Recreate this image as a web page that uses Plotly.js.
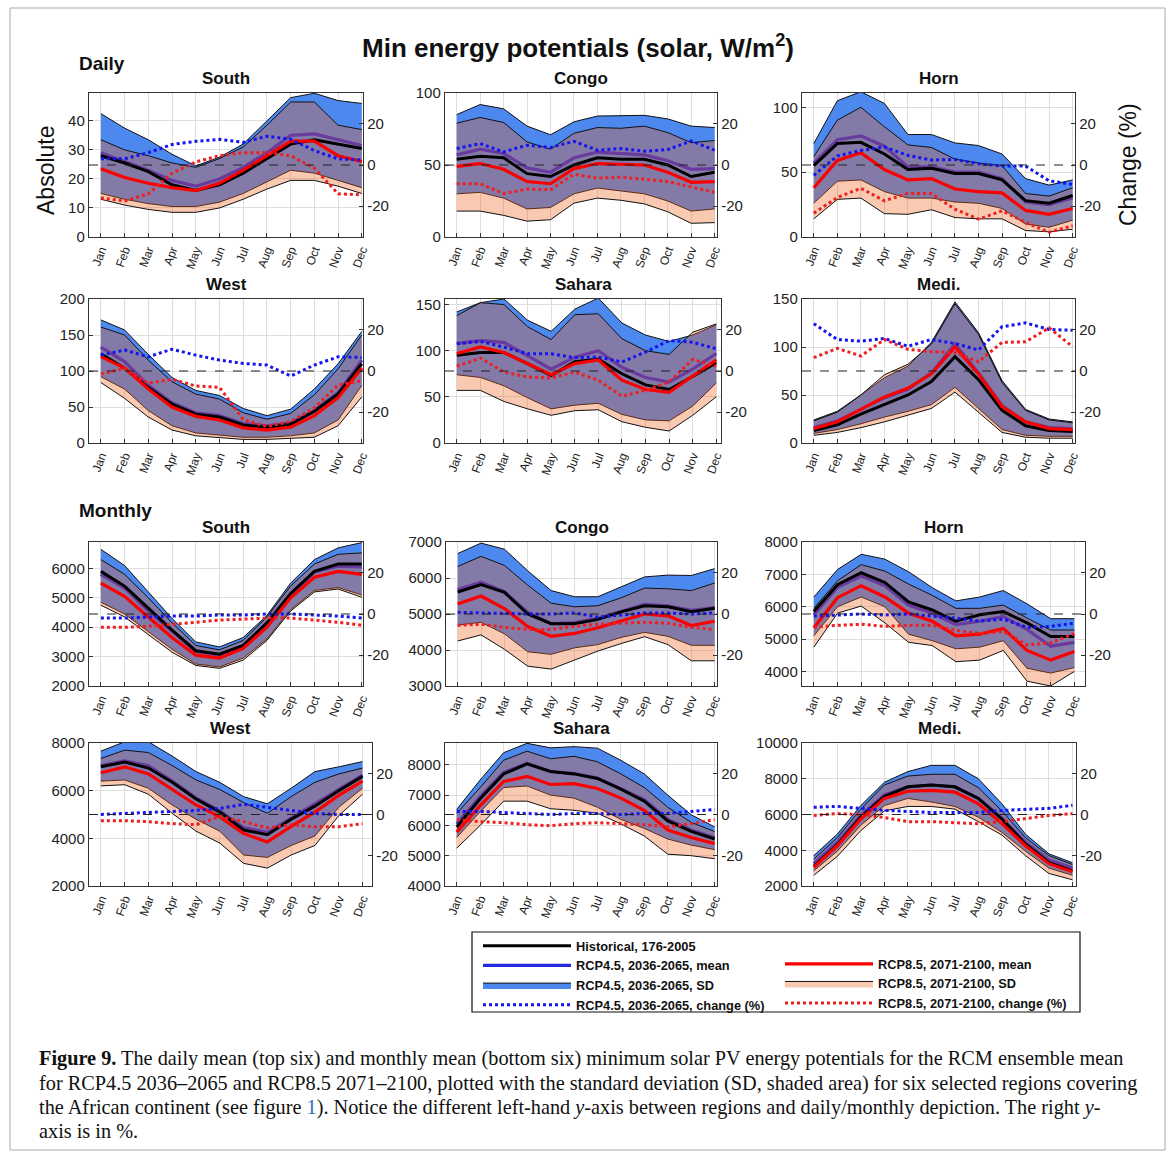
<!DOCTYPE html>
<html><head><meta charset="utf-8">
<script src="https://cdn.plot.ly/plotly-3.0.1.min.js"></script>
<style>html,body{margin:0;padding:0;background:#fff}</style>
</head><body><div id="chart" style="width:1173px;height:1157px"></div>
<script>
const months = ['Jan','Feb','Mar','Apr','May','Jun','Jul','Aug','Sep','Oct','Nov','Dec'];
const monthIdx = [1,2,3,4,5,6,7,8,9,10,11,12];

// ---------- DAILY ----------
// South (daily)
const dSouth_hist  = [28,25.5,22.5,18,16,18,22,27,32,33.5,32,30.5];
const dSouth_r45   = [29,26,23,19.5,17.5,20,24,29,35,35.5,33.5,31.5];
const dSouth_r45hi = [42.5,37.5,33.5,28.5,24.5,27.5,32,40,48,49.5,47,46];
const dSouth_r45lo = [15,13,11.5,10.5,10.5,12,15,19,23,22,19.5,17];
const dSouth_r85   = [23.5,20.5,18.5,17,16,18.5,23,28,33,33,28,26];
const dSouth_r85hi = [33.5,30,28,25.5,24,27,31,38.5,46.5,46.5,38.5,37];
const dSouth_r85lo = [13,11,9.5,8.5,8.5,10,13,16.5,19.5,19.5,17.5,15];
const dSouth_c45   = [3,3,6,10,11.5,12.5,11,14,12.5,7,3,2.5];
const dSouth_c85   = [-16,-17.5,-14,-4,1.5,4.5,6,6,4.5,-1.5,-14,-14.5];
// Congo (daily)
const dCongo_hist  = [54,56,55,44,42,50,55,54,54,50,42,45];
const dCongo_r45   = [57,61,58,48,45,55,59,58,57,53,47,47.5];
const dCongo_r45hi = [85,92,89,77,71,80,84,84,84.5,82,77,76];
const dCongo_r45lo = [30,31,27,19.5,20.5,30,34,32,30,25,18,19.5];
const dCongo_r85   = [49,51,47,38.5,37,47.5,51,50.5,50,45,38,38.5];
const dCongo_r85hi = [79,83,79.5,66,61,72,76,75.5,77,72.5,65.5,67];
const dCongo_r85lo = [18,18,15,11,12,23.5,27,25.5,23,17.5,9.5,10];
const dCongo_c45   = [8,10.4,6.4,9.6,8.5,11.5,7.2,8,6.7,7.5,11.7,7.2];
const dCongo_c85   = [-9.1,-9.1,-13.9,-11.7,-12,-4.5,-6.4,-5.9,-6.9,-8,-10.7,-13.3];
// Horn (daily)
const dHorn_hist  = [55,72,73,64,52,53,49,49,44,28,26,32];
const dHorn_r45   = [57,75,78,70,54,54,50,50,45,27,25,30];
const dHorn_r45hi = [72,105,112,103,79,79,72.5,70.5,64,45,40,44];
const dHorn_r45lo = [26,43,44,35,30,30,27,26,22,10,7.5,13];
const dHorn_r85   = [38,59,65,52,44,45,37,35,34,20.5,17.5,22];
const dHorn_r85hi = [62,90,100,85,71,69,60,57,55,33.5,31.5,38];
const dHorn_r85lo = [14,29,30,18,17.5,21,15,14,14,5,4,6];
const dHorn_c45   = [-5,4.4,7.1,8.7,4.7,2.4,2.7,0.6,-0.5,-0.5,-7.7,-9.4];
const dHorn_c85   = [-23.4,-15.8,-11.3,-17.4,-13.9,-13.9,-21.5,-26.3,-22.3,-27.9,-32.7,-29.5];
// West (daily)
const dWest_hist  = [124,104,77,54,40,36,25,22,26,44,68,110];
const dWest_r45   = [133,113,80,56,42,38,27,24,28,45,70,115];
const dWest_r45hi = [171,157,123,91,73,66,48,38,47,75,110,155];
const dWest_r45lo = [92,75,45,24,14,11,8,8,10,14,32,80];
const dWest_r85   = [120,104,75,50,37,32,21,18,22,38,63,104];
const dWest_r85hi = [161,150,115,85,68,61,42,33,41,67,103,150];
const dWest_r85lo = [84,62,36,18,10,8,5,5,6,8,24,64];
const dWest_c45   = [7.7,10.2,6.9,10.6,7.7,5.3,3.7,2.9,-2.4,2.9,6.9,6.6];
const dWest_c85   = [-1.5,1.3,-6,-4,-7.3,-7.9,-23.7,-27,-24.5,-18,-6.8,-4.7];
// Sahara (daily)
const dSahara_hist  = [95,98,98,86,73,88,91,75,63,58,72,87];
const dSahara_r45   = [108,111,109,95,80,93,100,82,71,66,80,97];
const dSahara_r45hi = [142,152,156,133,121,145,157,130,117,110,117,128];
const dSahara_r45lo = [74,71,62,49,37,41,43,31,25,24,40,65];
const dSahara_r85   = [97,104,98,86,74,86,90,68,58,55,73,90];
const dSahara_r85hi = [138,152,150,126,112,139,140,113,100,96,120,129];
const dSahara_r85lo = [57,57,45,37,30,35,36,23,17,13,30,50];
const dSahara_c45   = [13.2,14.4,11.6,8.4,8.4,6.5,6.8,4.4,9.2,14.8,14,10.8];
const dSahara_c85   = [2.3,6.3,-0.5,-2.9,-3.4,-0.5,-4.5,-12.3,-9.4,-5.3,5.6,2.3];
// Medi. (daily)
const dMedi_hist  = [13,19,30,40,50,64,90,66,34,18,13,12];
const dMedi_r45   = [16,23,35,47,56,73,103,73,39,22,16,15];
const dMedi_r45hi = [24,33,50,68,80,105,147,115,65,35,25,22];
const dMedi_r45lo = [10,14,20,27,33,40,58,36,14,8,7,7];
const dMedi_r85   = [15,22,35,48,57,72,100,72,38,22,15,14];
const dMedi_r85hi = [23,32,50,71,82,103,145,113,63,34,24,21];
const dMedi_r85lo = [8,11,16,22,29,36,53,32,11,6,5,5];
const dMedi_c45   = [23,15.3,14.5,15.8,12,15.3,13.4,10.2,21.5,23.4,20.2,19.8];
const dMedi_c85   = [6.5,11,7.3,15.3,10.5,9.4,8.9,4.5,13.9,14.2,21,11.8];

// ---------- MONTHLY ----------
const mSouth_hist  = [5900,5400,4650,3900,3200,3080,3380,4150,5150,5900,6150,6150];
const mSouth_r45   = [5800,5330,4550,3850,3180,3050,3360,4100,5100,5880,6080,6050];
const mSouth_r45hi = [6650,6100,5200,4300,3500,3330,3650,4400,5500,6300,6700,6880];
const mSouth_r45lo = [4850,4450,3850,3250,2750,2650,2950,3600,4600,5250,5350,5100];
const mSouth_r85   = [5500,5050,4350,3650,3050,2950,3280,4000,5000,5700,5900,5800];
const mSouth_r85hi = [6300,5800,5000,4150,3380,3230,3550,4350,5400,6150,6480,6530];
const mSouth_r85lo = [4750,4350,3750,3150,2700,2600,2880,3550,4550,5200,5300,5020];
const mSouth_c45   = [-2,-2,-1.5,-1,-1,-0.5,-0.5,0,0,-0.5,-1,-2];
const mSouth_c85   = [-6.5,-6.5,-6,-5,-4,-3,-2.5,-2,-2,-3,-4,-5.5];

const mCongo_hist  = [5610,5820,5600,5000,4730,4730,4850,5060,5230,5200,5060,5160];
const mCongo_r45   = [5680,5880,5620,5050,4730,4760,4880,5070,5270,5230,5100,5180];
const mCongo_r45hi = [6680,6970,6800,6200,5650,5480,5480,5750,6030,6080,6070,6260];
const mCongo_r45lo = [4690,4770,4450,3950,3880,4060,4150,4350,4490,4380,4130,4130];
const mCongo_r85   = [5280,5500,5150,4650,4380,4460,4620,4800,5000,4950,4680,4800];
const mCongo_r85hi = [6320,6600,6350,5800,5300,5200,5230,5450,5720,5700,5650,5860];
const mCongo_r85lo = [4250,4420,4020,3550,3470,3730,3970,4180,4370,4150,3700,3700];
const mCongo_c45   = [0.8,0.5,0,0,0,0.5,-1.5,-0.5,0.5,0.5,0,0.5];
const mCongo_c85   = [-5.5,-5,-6.5,-7.5,-7.5,-6,-5,-4.5,-4,-4.5,-6.5,-7.5];

const mHorn_hist  = [5850,6680,7050,6750,6150,5900,5550,5750,5850,5500,5080,5080];
const mHorn_r45   = [5750,6600,6950,6650,6050,5800,5450,5550,5700,5300,4780,4900];
const mHorn_r45hi = [6300,7150,7620,7470,7080,6590,6180,6300,6500,6090,5630,5630];
const mHorn_r45lo = [5100,6000,6300,6000,5150,4950,4700,4750,4950,4100,3950,4120];
const mHorn_r85   = [5350,6280,6650,6300,5800,5550,5100,5150,5330,4650,4350,4620];
const mHorn_r85hi = [5950,6800,7300,7100,6700,6350,5950,5950,6050,5650,5280,5280];
const mHorn_r85lo = [4750,5800,6020,5500,4900,4800,4300,4350,4650,3700,3550,4000];
const mHorn_c45   = [-1,-0.5,0,-0.5,0,-1,-2,-3.5,-2.5,-6.5,-6,-4.5];
const mHorn_c85   = [-6.5,-5.5,-5,-6,-5.5,-5.5,-8,-9.5,-8.5,-15,-14,-9.5];

const mWest_hist  = [7000,7200,6950,6350,5650,5100,4350,4150,4800,5350,6000,6600];
const mWest_r45   = [7050,7250,7050,6400,5700,5150,4450,4250,4850,5450,6050,6650];
const mWest_r45hi = [7660,8050,8050,7450,6800,6350,5750,5450,6100,6800,7000,7220];
const mWest_r45lo = [6400,6450,6100,5400,4800,4300,3300,3200,3700,4100,5300,6100];
const mWest_r85   = [6750,7000,6700,6050,5400,4900,4200,3850,4500,5100,5800,6400];
const mWest_r85hi = [7350,7700,7600,7050,6450,6050,5500,5050,5750,6350,6700,6950];
const mWest_r85lo = [6200,6250,5850,5050,4300,3800,2950,2750,3300,3700,4950,5850];
const mWest_c45   = [0,0.5,1,1.5,2,3,5,3.5,2,0.5,0,0];
const mWest_c85   = [-3,-3,-3.5,-4.5,-5,-1,-3.5,-6.5,-5,-6,-6,-4.5];

const mSahara_hist  = [5950,6880,7700,8030,7780,7700,7550,7200,6800,6150,5800,5550];
const mSahara_r45   = [6050,6950,7750,8050,7780,7720,7560,7200,6850,6200,5850,5600];
const mSahara_r45hi = [6530,7500,8400,8710,8560,8600,8550,8150,7700,7000,6350,5950];
const mSahara_r45lo = [5600,6450,7250,7300,7000,6900,6600,6200,5900,5550,5350,5200];
const mSahara_r85   = [5780,6650,7450,7620,7350,7380,7220,6900,6500,5850,5600,5400];
const mSahara_r85hi = [6400,7250,8150,8450,8200,8280,8100,7700,7250,6600,6100,5800];
const mSahara_r85lo = [5250,6000,6800,6800,6550,6500,6400,6050,5650,5050,5000,4900];
const mSahara_c45   = [1.5,1.5,1,0.5,0,0.5,0.5,0,0.5,0.5,1.5,2.5];
const mSahara_c85   = [-2.5,-3.5,-4,-5,-5.5,-4.5,-4,-4.5,-5,-6,-4.5,-2.5];

const mMedi_hist  = [3100,4300,5850,7000,7550,7650,7550,6900,5750,4350,3300,2850];
const mMedi_r45   = [3250,4450,5950,7100,7550,7650,7550,6900,5800,4450,3450,3000];
const mMedi_r45hi = [3700,4900,6500,7800,8400,8750,8750,8000,6600,4900,3800,3300];
const mMedi_r45lo = [2850,3950,5400,6500,6900,6700,6450,5850,5000,3950,3000,2600];
const mMedi_r85   = [3050,4250,5750,6900,7300,7350,7250,6600,5500,4250,3250,2800];
const mMedi_r85hi = [3500,4700,6300,7650,8150,8250,8250,7500,6200,4700,3700,3200];
const mMedi_r85lo = [2600,3650,5100,6200,6450,6450,6300,5600,4850,3700,2700,2350];
const mMedi_c45   = [3.5,4,3,2,1.5,1,1,1,2,2.5,3,4.5];
const mMedi_c85   = [-0.5,0.5,0,-1.5,-3.5,-3.5,-4,-4.5,-3.5,-2,-0.5,0.5];

const regionNames = ['South','Congo','Horn','West','Sahara','Medi.','South','Congo','Horn','West','Sahara','Medi.'];
const legendNames = {
  hist:'Historical, 176-2005',
  r45:'RCP4.5, 2036-2065, mean', r45sd:'RCP4.5, 2036-2065, SD', c45:'RCP4.5, 2036-2065, change (%)',
  r85:'RCP8.5, 2071-2100, mean', r85sd:'RCP8.5, 2071-2100, SD', c85:'RCP8.5, 2071-2100, change (%)'
};

// panel data table built from arrays
const panelData = [
  {hist:dSouth_hist,r45:dSouth_r45,r45hi:dSouth_r45hi,r45lo:dSouth_r45lo,r85:dSouth_r85,r85hi:dSouth_r85hi,r85lo:dSouth_r85lo,c45:dSouth_c45,c85:dSouth_c85},
  {hist:dCongo_hist,r45:dCongo_r45,r45hi:dCongo_r45hi,r45lo:dCongo_r45lo,r85:dCongo_r85,r85hi:dCongo_r85hi,r85lo:dCongo_r85lo,c45:dCongo_c45,c85:dCongo_c85},
  {hist:dHorn_hist,r45:dHorn_r45,r45hi:dHorn_r45hi,r45lo:dHorn_r45lo,r85:dHorn_r85,r85hi:dHorn_r85hi,r85lo:dHorn_r85lo,c45:dHorn_c45,c85:dHorn_c85},
  {hist:dWest_hist,r45:dWest_r45,r45hi:dWest_r45hi,r45lo:dWest_r45lo,r85:dWest_r85,r85hi:dWest_r85hi,r85lo:dWest_r85lo,c45:dWest_c45,c85:dWest_c85},
  {hist:dSahara_hist,r45:dSahara_r45,r45hi:dSahara_r45hi,r45lo:dSahara_r45lo,r85:dSahara_r85,r85hi:dSahara_r85hi,r85lo:dSahara_r85lo,c45:dSahara_c45,c85:dSahara_c85},
  {hist:dMedi_hist,r45:dMedi_r45,r45hi:dMedi_r45hi,r45lo:dMedi_r45lo,r85:dMedi_r85,r85hi:dMedi_r85hi,r85lo:dMedi_r85lo,c45:dMedi_c45,c85:dMedi_c85},
  {hist:mSouth_hist,r45:mSouth_r45,r45hi:mSouth_r45hi,r45lo:mSouth_r45lo,r85:mSouth_r85,r85hi:mSouth_r85hi,r85lo:mSouth_r85lo,c45:mSouth_c45,c85:mSouth_c85},
  {hist:mCongo_hist,r45:mCongo_r45,r45hi:mCongo_r45hi,r45lo:mCongo_r45lo,r85:mCongo_r85,r85hi:mCongo_r85hi,r85lo:mCongo_r85lo,c45:mCongo_c45,c85:mCongo_c85},
  {hist:mHorn_hist,r45:mHorn_r45,r45hi:mHorn_r45hi,r45lo:mHorn_r45lo,r85:mHorn_r85,r85hi:mHorn_r85hi,r85lo:mHorn_r85lo,c45:mHorn_c45,c85:mHorn_c85},
  {hist:mWest_hist,r45:mWest_r45,r45hi:mWest_r45hi,r45lo:mWest_r45lo,r85:mWest_r85,r85hi:mWest_r85hi,r85lo:mWest_r85lo,c45:mWest_c45,c85:mWest_c85},
  {hist:mSahara_hist,r45:mSahara_r45,r45hi:mSahara_r45hi,r45lo:mSahara_r45lo,r85:mSahara_r85,r85hi:mSahara_r85hi,r85lo:mSahara_r85lo,c45:mSahara_c45,c85:mSahara_c85},
  {hist:mMedi_hist,r45:mMedi_r45,r45hi:mMedi_r45hi,r45lo:mMedi_r45lo,r85:mMedi_r85,r85hi:mMedi_r85hi,r85lo:mMedi_r85lo,c45:mMedi_c45,c85:mMedi_c85}
];

// axis settings (left axis)
const leftTicks = [
  [0,10,20,30,40],[0,50,100],[0,50,100],[0,50,100,150,200],[0,50,100,150],[0,50,100,150],
  [2000,3000,4000,5000,6000],[3000,4000,5000,6000,7000],[4000,5000,6000,7000,8000],[2000,4000,6000,8000],[4000,5000,6000,7000,8000],[2000,4000,6000,8000,10000]
];
const rightTicks = [-20, 0, 20];
const leftRanges = [
  [0,49.6],[0,100],[0,111],[0,200],[0,156],[0,150],
  [2000,6900],[3000,7000],[3550,8000],[2000,8000],[4000,8720],[2000,10000]
];
// panel geometry in pixels: [left, right, top, bottom, xmax]
const geom = [
  [89,363,93,237,12.05],[445,717,93,237,12.1],[802,1075,93,237,12.1],
  [89,363,299,443,12.05],[445,721,299,443,12.2],[802,1075,299,443,12.1],
  [89,363,542,686,12.05],[446,717,542,686,12.1],[802,1085,542,686,12.45],
  [89,372,743,886,12.4],[445,717,743,886,12.1],[802,1076,743,886,12.15]
];

const W = 1173, H = 1157;
const fx = p => p / W;
const fy = p => 1 - p / H;
const FONT = 'Liberation Sans, Arial, sans-serif';

const BLUE_BAND = 'rgb(76,136,238)';
const PEACH_BAND = 'rgba(240,98,30,0.34)';
const BLUE_LINE = 'rgb(35,40,225)';
const RED_LINE = 'rgb(250,0,0)';

const traces = [];
const layout = {
  width: W, height: H,
  margin: {l:0, r:0, t:0, b:0},
  paper_bgcolor: '#fff', plot_bgcolor: '#fff',
  font: {family: FONT, color: '#222'},
  showlegend: true,
  shapes: [], annotations: []
};

panelData.forEach((d, i) => {
  const xn = i === 0 ? '' : String(i + 1);
  const yLn = 2 * i + 1, yRn = 2 * i + 2;
  const xa = 'x' + xn;
  const yL = yLn === 1 ? 'y' : 'y' + yLn;
  const yR = 'y' + yRn;
  const g = geom[i];
  const first = i === 0;
  const edge = {color: '#111', width: 1};

  traces.push({x: monthIdx, y: d.r45lo, xaxis: xa, yaxis: yL, mode: 'lines', line: edge, showlegend: false, hoverinfo: 'skip'});
  traces.push({x: monthIdx, y: d.r45hi, xaxis: xa, yaxis: yL, mode: 'lines', line: edge, fill: 'tonexty', fillcolor: BLUE_BAND,
    name: legendNames.r45sd, showlegend: first, legend: 'legend', legendrank: 3});
  traces.push({x: monthIdx, y: d.r45, xaxis: xa, yaxis: yL, mode: 'lines', line: {color: BLUE_LINE, width: 3.2},
    name: legendNames.r45, showlegend: first, legend: 'legend', legendrank: 2});
  traces.push({x: monthIdx, y: d.r85lo, xaxis: xa, yaxis: yL, mode: 'lines', line: edge, showlegend: false, hoverinfo: 'skip'});
  traces.push({x: monthIdx, y: d.r85hi, xaxis: xa, yaxis: yL, mode: 'lines', line: edge, fill: 'tonexty', fillcolor: PEACH_BAND,
    name: legendNames.r85sd, showlegend: first, legend: 'legend2', legendrank: 3});
  traces.push({x: monthIdx, y: d.hist, xaxis: xa, yaxis: yL, mode: 'lines', line: {color: '#000', width: 3},
    name: legendNames.hist, showlegend: first, legend: 'legend', legendrank: 1});
  traces.push({x: monthIdx, y: d.r85, xaxis: xa, yaxis: yL, mode: 'lines', line: {color: RED_LINE, width: 3.2},
    name: legendNames.r85, showlegend: first, legend: 'legend2', legendrank: 2});
  traces.push({x: monthIdx, y: d.c45, xaxis: xa, yaxis: yR, mode: 'lines', line: {color: 'rgb(20,20,240)', width: 3, dash: 'dot'},
    name: legendNames.c45, showlegend: first, legend: 'legend', legendrank: 4});
  traces.push({x: monthIdx, y: d.c85, xaxis: xa, yaxis: yR, mode: 'lines', line: {color: 'rgb(240,30,30)', width: 3, dash: 'dot'},
    name: legendNames.c85, showlegend: first, legend: 'legend2', legendrank: 4});

  layout['xaxis' + xn] = {
    domain: [fx(g[0]), fx(g[1])], anchor: yL, range: [0.5, g[4]],
    tickmode: 'array', tickvals: monthIdx, ticktext: months, tickangle: -70,
    tickfont: {size: 12, family: FONT, color: '#222'},
    showgrid: true, gridcolor: '#dedede', gridwidth: 1, zeroline: false,
    showline: true, mirror: true, linecolor: '#333', linewidth: 1.2,
    ticks: 'inside', ticklen: 4, tickcolor: '#333', fixedrange: true
  };
  layout['yaxis' + (yLn === 1 ? '' : yLn)] = {
    domain: [fy(g[3]), fy(g[2])], anchor: xa, range: leftRanges[i],
    tickmode: 'array', tickvals: leftTicks[i], ticktext: leftTicks[i].map(String),
    tickfont: {size: 15, family: FONT, color: '#222'},
    showgrid: true, gridcolor: '#dedede', gridwidth: 1, zeroline: false,
    showline: true, mirror: false, linecolor: '#333', linewidth: 1.2,
    ticks: 'inside', ticklen: 4, tickcolor: '#333', fixedrange: true
  };
  layout['yaxis' + yRn] = {
    overlaying: yL, side: 'right', anchor: xa, range: [-35, 35],
    tickmode: 'array', tickvals: rightTicks, ticktext: rightTicks.map(String),
    tickfont: {size: 15, family: FONT, color: '#222'},
    showgrid: false, zeroline: false,
    showline: true, linecolor: '#333', linewidth: 1.2,
    ticks: 'inside', ticklen: 4, tickcolor: '#333', fixedrange: true
  };
  layout.shapes.push({type: 'line', xref: xa + ' domain', x0: 0, x1: 1, yref: yR, y0: 0, y1: 0,
    line: {color: '#222', width: 1.2, dash: 'dash'}, layer: 'above'});
  layout.annotations.push({xref: 'paper', yref: 'paper', x: fx((g[0] + g[1]) / 2), y: fy(g[2] - 3),
    xanchor: 'center', yanchor: 'bottom', showarrow: false, text: '<b>' + regionNames[i] + '</b>',
    font: {size: 17, family: FONT, color: '#111'}});
});

// titles and labels
layout.annotations.push(
  {xref:'paper', yref:'paper', x: fx(578), y: fy(47), xanchor:'center', yanchor:'middle', showarrow:false,
   text:'<b>Min energy potentials (solar, W/m<sup>2</sup>)</b>', font:{size:26, family:FONT, color:'#111'}},
  {xref:'paper', yref:'paper', x: fx(77), y: fy(63), xanchor:'left', yanchor:'middle', showarrow:false,
   text:'<b>Daily</b>', font:{size:19, family:FONT, color:'#111'}},
  {xref:'paper', yref:'paper', x: fx(77), y: fy(510), xanchor:'left', yanchor:'middle', showarrow:false,
   text:'<b>Monthly</b>', font:{size:19, family:FONT, color:'#111'}},
  {xref:'paper', yref:'paper', x: fx(46), y: fy(170), xanchor:'center', yanchor:'middle', showarrow:false, textangle:-90,
   text:'Absolute', font:{size:23, family:FONT, color:'#111'}},
  {xref:'paper', yref:'paper', x: fx(1128), y: fy(165), xanchor:'center', yanchor:'middle', showarrow:false, textangle:-90,
   text:'Change (%)', font:{size:23, family:FONT, color:'#111'}}
);

// caption
const capFont = {size: 20.3, family: 'Liberation Serif, Times New Roman, serif', color: '#111'};
const capLines = [
  '<b>Figure 9.</b> The daily mean (top six) and monthly mean (bottom six) minimum solar PV energy potentials for the RCM ensemble mean',
  'for RCP4.5 2036–2065 and RCP8.5 2071–2100, plotted with the standard deviation (SD, shaded area) for six selected regions covering',
  'the African continent (see figure <span style="color:#2a6ebb">1</span>). Notice the different left-hand <i>y</i>-axis between regions and daily/monthly depiction. The right <i>y</i>-',
  'axis is in %.'
];
const capY = [1058, 1083, 1107, 1131];
capLines.forEach((t, k) => layout.annotations.push({xref:'paper', yref:'paper', x: fx(37), y: fy(capY[k]),
  xanchor:'left', yanchor:'middle', showarrow:false, align:'left', text: t, font: capFont}));

// legend box & frame
layout.shapes.push(
  {type:'rect', xref:'paper', yref:'paper', x0: fx(472), x1: fx(1080), y0: fy(1012), y1: fy(932), line:{color:'#111', width:1.2}, fillcolor:'rgba(0,0,0,0)'},
  {type:'rect', xref:'paper', yref:'paper', x0: fx(10), x1: fx(1165), y0: fy(1150), y1: fy(8), line:{color:'#aaa', width:1}, fillcolor:'rgba(0,0,0,0)', layer:'below'}
);

const legFont = {size: 12.8, family: FONT, color: '#111', weight: 'bold'};
layout.legend = {x: fx(478), y: fy(931), xanchor:'left', yanchor:'top', bgcolor:'rgba(0,0,0,0)', borderwidth:0,
  font: legFont, itemwidth: 88, tracegroupgap: 0, traceorder:'normal'};
layout.legend2 = {x: fx(780), y: fy(949), xanchor:'left', yanchor:'top', bgcolor:'rgba(0,0,0,0)', borderwidth:0,
  font: legFont, itemwidth: 88, tracegroupgap: 0, traceorder:'normal'};

Plotly.newPlot('chart', traces, layout, {staticPlot: true, displayModeBar: false});
</script>
</body></html>
